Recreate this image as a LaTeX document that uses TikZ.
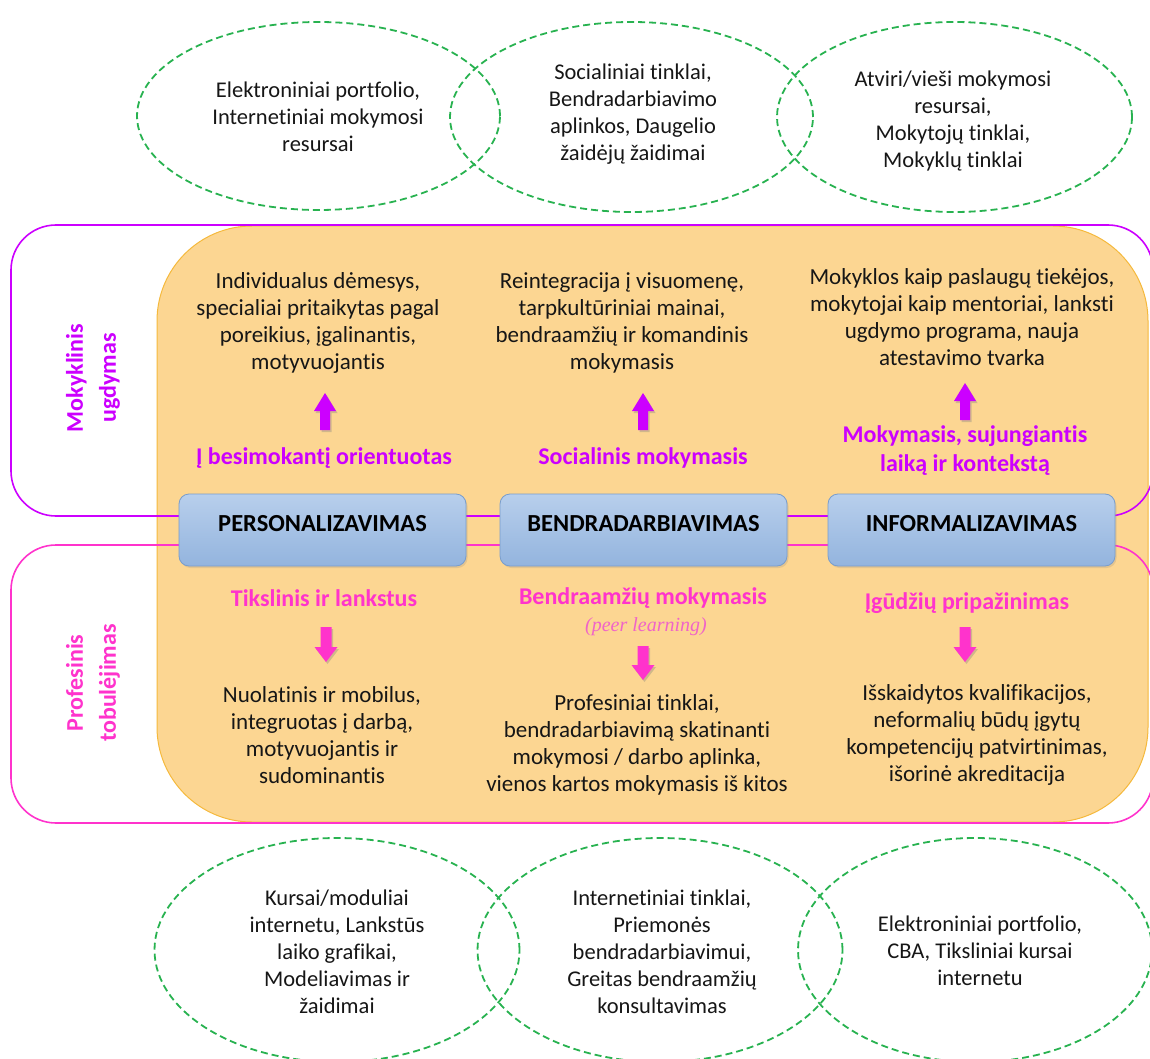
\documentclass[tikz,border=0pt]{standalone}
\usepackage{fontspec}
\setmainfont[Ligatures={NoCommon}]{Carlito}
\newfontfamily\peerfont{Liberation Serif}
\usetikzlibrary{shapes.geometric,shadows}
\definecolor{myorange}{RGB}{252,214,146}
\definecolor{orangeedge}{RGB}{245,185,60}
\definecolor{mypurple}{RGB}{204,0,255}
\definecolor{mypink}{RGB}{255,51,204}
\definecolor{peerpink}{RGB}{240,100,200}
\definecolor{mygreen}{RGB}{40,178,80}
\definecolor{bluetop}{RGB}{184,207,236}
\definecolor{bluebot}{RGB}{147,180,222}
\definecolor{blueedge}{RGB}{120,157,205}
\definecolor{textblack}{RGB}{22,22,22}
\newcommand{\blockup}[4]{%
  \fill[#4, drop shadow={shadow xshift=1.5pt, shadow yshift=-2pt, opacity=0.35}]
    (#1,#2) -- (#1+11,#2+18) -- (#1+5,#2+18) -- (#1+5,#3) -- (#1-5,#3) -- (#1-5,#2+18) -- (#1-11,#2+18) -- cycle;}
\newcommand{\blockdown}[4]{%
  \fill[#4, drop shadow={shadow xshift=1.5pt, shadow yshift=-2pt, opacity=0.35}]
    (#1,#3) -- (#1+11.5,#3-15) -- (#1+5.5,#3-15) -- (#1+5.5,#2) -- (#1-5.5,#2) -- (#1-5.5,#3-15) -- (#1-11.5,#3-15) -- cycle;}
\begin{document}
\begin{tikzpicture}[x=1pt,y=-1pt,
  ellip/.style={ellipse, draw=mygreen, dash pattern=on 7pt off 4pt, line width=1.8pt, inner sep=0pt},
  elliptext/.style={align=center, text=textblack, inner sep=0pt, font=\fontsize{22.5}{27}\selectfont},
  bodytext/.style={align=center, text=textblack, inner sep=0pt, font=\fontsize{23}{27}\selectfont},
  purplelabel/.style={align=center, text=mypurple, inner sep=0pt, font=\bfseries\fontsize{24}{29}\selectfont},
  pinklabel/.style={align=center, text=mypink, inner sep=0pt, font=\bfseries\fontsize{24}{29}\selectfont},
  sidelabel/.style={align=center, inner sep=0pt, rotate=90, font=\bfseries\fontsize{24}{33}\selectfont},
  bluebox/.style={rectangle, rounded corners=10pt, draw=blueedge, line width=0.8pt,
    top color=bluetop, bottom color=bluebot, minimum width=287pt, minimum height=72pt,
    inner sep=0pt, text=black, font=\bfseries\fontsize{24.5}{28}\selectfont,
    drop shadow={shadow xshift=1.5pt, shadow yshift=-2pt, opacity=0.2}}
]
\useasboundingbox (0,0) rectangle (1150,1059);
\clip (0,0) rectangle (1150,1059);

% top ellipses
\node[ellip, minimum width=363pt, minimum height=188pt] (e1) at (318.5,116) {};
\node[elliptext] (e1t) at (318,117) {Elektroniniai portfolio,\\Internetiniai mokymosi\\resursai};
\node[ellip, minimum width=363pt, minimum height=190pt] (e2) at (631.5,117) {};
\node[elliptext] (e2t) at (633,114) {Socialiniai tinklai,\\Bendradarbiavimo\\aplinkos, Daugelio\\žaidėjų žaidimai};
\node[ellip, minimum width=355pt, minimum height=190pt] (e3) at (954.5,117) {};
\node[elliptext] (e3t) at (953,121) {Atviri/vieši mokymosi\\resursai,\\Mokytojų tinklai,\\Mokyklų tinklai};

% orange background
\draw[fill=myorange, draw=orangeedge, line width=1pt, rounded corners=95pt] (157,226) rectangle (1148,822);
% purple and pink frames
\draw[mypurple, line width=1.6pt, rounded corners=45pt] (11,225) rectangle (1153,516);
\draw[mypink, line width=1.6pt, rounded corners=45pt] (11,545) rectangle (1153,823);

% side labels
\node[sidelabel, text=mypurple] (sl1) at (93,378) {Mokyklinis\\ugdymas};
\node[sidelabel, text=mypink] (sl2) at (93,683) {Profesinis\\tobulėjimas};

% blue boxes
\node[bluebox] (b1) at (322.5,530) {\raisebox{13pt}{PERSONALIZAVIMAS}};
\node[bluebox] (b2) at (643.5,530) {\raisebox{13pt}{BENDRADARBIAVIMAS}};
\node[bluebox] (b3) at (971.5,530) {\raisebox{13pt}{INFORMALIZAVIMAS}};

% upper texts
\node[bodytext] (u1) at (318,323) {Individualus dėmesys,\\specialiai pritaikytas pagal\\poreikius, įgalinantis,\\motyvuojantis};
\node[bodytext] (u2) at (622,323) {Reintegracija į visuomenę,\\tarpkultūriniai mainai,\\bendraamžių ir komandinis\\mokymasis};
\node[bodytext] (u3) at (962,317) {Mokyklos kaip paslaugų tiekėjos,\\mokytojai kaip mentoriai, lanksti\\ugdymo programa, nauja\\atestavimo tvarka};

\blockup{325}{393}{430}{mypurple}
\blockup{643}{393}{430}{mypurple}
\blockup{965}{383}{420}{mypurple}

\node[purplelabel] (ul1) at (324,458) {Į besimokantį orientuotas};
\node[purplelabel] (ul2) at (643,458) {Socialinis mokymasis};
\node[purplelabel] (ul3) at (965,451) {Mokymasis, sujungiantis\\laiką ir kontekstą};

% lower labels
\node[pinklabel] (ll1) at (324,598) {Tikslinis ir lankstus};
\node[pinklabel] (ll2) at (643,598) {Bendraamžių mokymasis};
\node[inner sep=0pt, text=peerpink, font=\peerfont\itshape\fontsize{20}{24}\selectfont] (peer) at (646,627) {(peer learning)};
\node[pinklabel] (ll3) at (967,603) {Įgūdžių pripažinimas};

\blockdown{326}{627}{662}{mypink}
\blockdown{643}{646}{680}{mypink}
\blockdown{965}{627}{662}{mypink}

\node[bodytext] (d1) at (322,735) {Nuolatinis ir mobilus,\\integruotas į darbą,\\motyvuojantis ir\\sudominantis};
\node[bodytext] (d2) at (637,745) {Profesiniai tinklai,\\bendradarbiavimą skatinanti\\mokymosi / darbo aplinka,\\vienos kartos mokymasis iš kitos};
\node[bodytext] (d3) at (977,735) {Išskaidytos kvalifikacijos,\\neformalių būdų įgytų\\kompetencijų patvirtinimas,\\išorinė akreditacija};

% bottom ellipses
\node[ellip, minimum width=365pt, minimum height=224pt] (f1) at (337,950) {};
\node[elliptext] (f1t) at (337,952) {Kursai/moduliai\\internetu, Lankstūs\\laiko grafikai,\\Modeliavimas ir\\žaidimai};
\node[ellip, minimum width=365pt, minimum height=224pt] (f2) at (660,950) {};
\node[elliptext] (f2t) at (662,952) {Internetiniai tinklai,\\Priemonės\\bendradarbiavimui,\\Greitas bendraamžių\\konsultavimas};
\node[ellip, minimum width=354pt, minimum height=224pt] (f3) at (975,950) {};
\node[elliptext] (f3t) at (980,951) {Elektroniniai portfolio,\\CBA, Tiksliniai kursai\\internetu};
\end{tikzpicture}
\end{document}
